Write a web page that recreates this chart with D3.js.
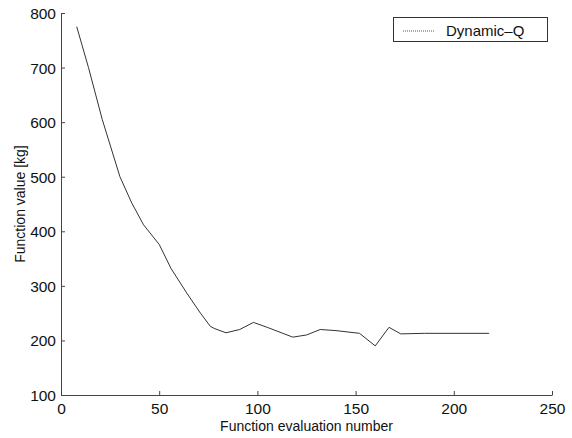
<!DOCTYPE html>
<html><head><meta charset="utf-8">
<script src="https://cdn.jsdelivr.net/npm/d3@7"></script>
<style>body{margin:0;background:#fff}svg{display:block}</style>
</head><body>
<script>
const evalNumber = [8, 14, 21, 30, 36, 42, 50, 56, 64, 71, 76, 78, 84, 91, 98, 105, 118, 125, 132, 140, 152, 160, 167, 173, 185, 197, 218];
const functionValue = [775, 700, 605, 500, 452, 412, 376, 332, 287, 250, 226, 222, 214, 220, 233, 224, 206, 210, 220, 218, 213, 190, 224, 212, 213, 213, 213];
const xTicks = [0, 50, 100, 150, 200, 250];
const yTicks = [100, 200, 300, 400, 500, 600, 700, 800];
const seriesName = "Dynamic\u2013Q";
const xLabel = "Function evaluation number";
const yLabel = "Function value [kg]";

const W = 572, H = 438;
const svg = d3.select("body").append("svg").attr("width", W).attr("height", H);
const font = "Liberation Sans, Arial, Helvetica, sans-serif";
const x = d3.scaleLinear().domain([0, 250]).range([61, 552]);
const y = d3.scaleLinear().domain([100, 800]).range([395, 13]);

const xAxis = svg.append("g").attr("transform", `translate(0,${y(100)})`)
  .call(d3.axisBottom(x).tickValues(xTicks).tickSizeInner(-4).tickSizeOuter(0).tickPadding(8));
const yAxis = svg.append("g").attr("transform", `translate(${x(0)},0)`)
  .call(d3.axisLeft(y).tickValues(yTicks).tickSizeInner(-4).tickSizeOuter(0).tickPadding(5));
[xAxis, yAxis].forEach(g => {
  g.selectAll("path,line").attr("stroke", "#444").attr("stroke-width", 1);
  g.selectAll("text").attr("font-family", font).attr("font-size", 15.5).attr("fill", "#111");
});
yAxis.selectAll("text").attr("dy", "0.35em");

svg.append("path")
  .datum(evalNumber.map((d, i) => [d, functionValue[i]]))
  .attr("fill", "none").attr("stroke", "#333").attr("stroke-width", 1)
  .attr("d", d3.line().x(d => x(d[0])).y(d => y(d[1])));

svg.append("text").attr("x", (x(0) + x(250)) / 2).attr("y", 431)
  .attr("text-anchor", "middle").attr("font-family", font).attr("font-size", 14).attr("fill", "#111").text(xLabel);
svg.append("text").attr("transform", `translate(25,${(y(100) + y(800)) / 2}) rotate(-90)`)
  .attr("text-anchor", "middle").attr("font-family", font).attr("font-size", 14).attr("fill", "#111").text(yLabel);

const lg = svg.append("g");
lg.append("rect").attr("x", 393.5).attr("y", 17.5).attr("width", 154).attr("height", 24)
  .attr("fill", "#fff").attr("stroke", "#333").attr("stroke-width", 1);
lg.append("line").attr("x1", 403).attr("x2", 434).attr("y1", 31).attr("y2", 31)
  .attr("stroke", "#555").attr("stroke-width", 1).attr("stroke-dasharray", "1,1");
lg.append("text").attr("x", 446).attr("y", 35.5).attr("font-family", font).attr("font-size", 15)
  .attr("fill", "#111").text(seriesName);
</script>
</body></html>
